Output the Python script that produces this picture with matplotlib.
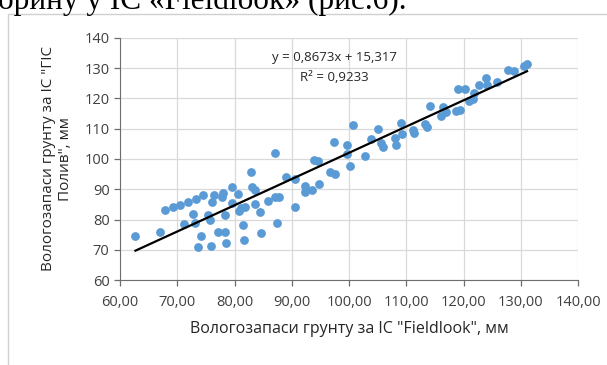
import numpy as np
import matplotlib
matplotlib.use('Agg')
import matplotlib.pyplot as plt
from matplotlib.patches import Rectangle

plt.rcParams['font.family'] = ['Open Sans', 'DejaVu Sans']

# Вологозапаси: Fieldlook (x) та ГІС "Полив" (y), мм
fieldlook = [62.7, 66.9, 67.8, 69.2, 70.4, 71.9, 73.2, 74.5, 71.2, 72.7,
             73.1, 73.6, 74.1, 75.4, 75.7, 75.9, 76.1, 76.4, 77.1, 77.8,
             78.0, 78.3, 78.4, 78.6, 79.5, 79.5, 80.6, 80.8, 81.2, 81.4,
             81.6, 81.9, 82.8, 83.1, 83.6, 83.5, 84.5, 84.6, 85.8, 87.1,
             87.1, 87.7, 87.5, 89.0, 90.6, 90.6, 92.3, 92.3, 93.6, 93.9,
             94.5, 94.8, 96.6, 97.6, 97.4, 99.6, 99.7, 100.2, 100.7, 102.8,
             103.9, 105.0, 105.6, 105.9, 108.2, 108.1, 109.0, 109.2, 111.1, 111.3,
             113.2, 113.6, 114.1, 116.1, 116.5, 116.9, 118.7, 119.4, 119.0, 120.3,
             121.0, 121.6, 121.9, 122.7, 123.9, 124.1, 125.9, 127.7, 128.8, 130.6,
             131.1]
gis_poliv = [74.7, 75.9, 83.0, 84.0, 84.9, 85.9, 86.8, 88.1, 78.4, 81.9,
             79.0, 70.8, 74.5, 81.4, 80.0, 71.1, 85.8, 88.1, 75.9, 87.3,
             88.8, 81.5, 76.0, 72.1, 90.7, 85.5, 88.4, 82.9, 83.8, 78.3,
             73.2, 84.2, 95.8, 90.6, 89.9, 85.1, 82.4, 75.6, 86.0, 101.9,
             87.5, 87.6, 78.7, 93.9, 93.3, 84.1, 91.2, 89.1, 89.8, 99.8,
             99.3, 91.8, 95.8, 94.9, 105.5, 101.6, 104.5, 97.6, 111.4, 101.0,
             106.7, 110.0, 105.4, 103.9, 104.6, 106.8, 112.0, 108.3, 109.6, 108.5,
             111.7, 110.5, 117.6, 114.3, 117.1, 115.4, 115.9, 116.3, 123.1, 123.1,
             119.1, 119.8, 121.8, 124.5, 126.7, 124.6, 125.6, 129.3, 129.0, 130.8,
             131.3]

slope, intercept = 0.8673, 15.317
x_ticks = [60, 70, 80, 90, 100, 110, 120, 130, 140]
y_ticks = [60, 70, 80, 90, 100, 110, 120, 130, 140]

fig = plt.figure(figsize=(6.07, 3.65), dpi=100)
fig.patch.set_facecolor('white')

# рамка області діаграми
fig.patches.append(Rectangle((8 / 607, -0.1), 1.0, 1 - 13.5 / 365 + 0.1,
                             transform=fig.transFigure, fill=False,
                             edgecolor='#d0d0d0', linewidth=1.0))

# обрізаний рядок тексту документа зверху
fig.text(-0.004, 1 - 9 / 365, 'орину у ІС «Fieldlook» (рис.6).',
         family='Liberation Serif', fontsize=22.5, ha='left', va='baseline')

ax = fig.add_axes([120 / 607, 1 - 280 / 365, 458 / 607, 242 / 365])
ax.scatter(fieldlook, gis_poliv, s=40, color='#5b9bd5', linewidths=0, zorder=3)

xs = np.array([min(fieldlook), max(fieldlook)])
ax.plot(xs, slope * xs + intercept, color='black', linewidth=1.6, zorder=4)

ax.set_xlim(60, 140)
ax.set_ylim(60, 140)
ax.set_xticks(x_ticks)
ax.set_yticks(y_ticks)
ax.set_xticklabels([f'{v:.2f}'.replace('.', ',') for v in x_ticks])
ax.set_yticklabels([str(v) for v in y_ticks])
ax.grid(True, color='#d9d9d9', linewidth=0.9)
ax.set_axisbelow(True)
for s in ['top', 'right']:
    ax.spines[s].set_visible(False)
for s in ['left', 'bottom']:
    ax.spines[s].set_color('#6e6e6e')
ax.tick_params(axis='both', colors='#6e6e6e', labelcolor='#404040',
               labelsize=10.5, length=4, width=0.9)
ax.tick_params(axis='x', pad=7)

ax.set_xlabel('Вологозапаси грунту за ІС "Fieldlook", мм', fontsize=11.5,
              color='#262626', labelpad=8)
ax.set_ylabel('Вологозапаси грунту за ІС "ГІС\nПолив", мм', fontsize=11,
              color='#262626', labelpad=8)

ax.text(97.4, 133.4, 'y = 0,8673x + 15,317', fontsize=9.5, ha='center',
        va='center', color='#262626')
ax.text(97.4, 127.1, 'R² = 0,9233', fontsize=9.5, ha='center',
        va='center', color='#262626')

fig.savefig('out.png', dpi=100)
